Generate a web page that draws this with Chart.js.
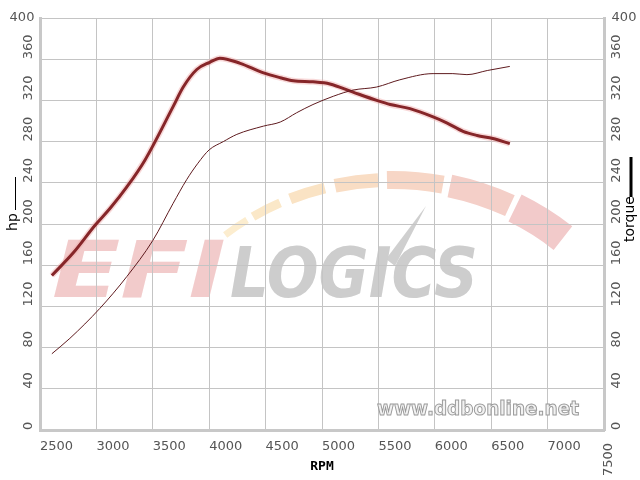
<!DOCTYPE html>
<html>
<head>
<meta charset="utf-8">
<script src="https://cdn.jsdelivr.net/npm/chart.js@4"></script>
<style>
  html, body { margin: 0; padding: 0; background: #fff; }
  canvas { display: block; }
</style>
</head>
<body>
<canvas id="dyno" width="640" height="480"></canvas>
<script>
// dyno run data
const rpmTicks = [2500, 3000, 3500, 4000, 4500, 5000, 5500, 6000, 6500, 7000, 7500];
const valueTicks = [0, 40, 80, 120, 160, 200, 240, 280, 320, 360, 400];

const torqueRpm = [2605, 2795, 2990, 3120, 3270, 3430, 3680, 3770, 3890, 4005, 4095, 4275, 4475, 4630, 4745, 4920, 5070, 5275, 5485, 5605, 5780, 5985, 6110, 6250, 6375, 6515, 6665];
const torqueVals = [150, 172, 199, 215, 236, 262, 314, 333, 350, 357, 361, 356, 347, 342, 339, 338, 336, 328, 320, 316, 312, 304, 298, 290, 286, 283, 278];

const hpRpm = [2605, 2765, 3030, 3270, 3500, 3680, 3800, 3900, 4000, 4125, 4245, 4480, 4630, 4775, 4920, 5100, 5275, 5485, 5690, 5985, 6160, 6285, 6465, 6665];
const hpVals = [74, 89, 118, 149, 184, 220, 243, 259, 272, 280, 287, 295, 299, 308, 316, 324, 330, 333, 340, 346, 346, 345, 349, 353];

const toPoints = (xs, ys) => xs.map((x, i) => ({ x: x, y: ys[i] }));

const tickFont = '13px "DejaVu Sans"';
const tickColor = '#555555';

// logo + site watermark behind the grid
const watermark = {
    id: 'watermark',
    beforeDraw(chart) {
        const ctx = chart.ctx;
        ctx.save();
        // gauge arc: [start angle, end angle, thickness, colour]
        const cx = 392, cy = 420, rx = 262, ry = 240;
        const segs = [
            [-2.261, -2.157, 7, '#fcedcf'], [-2.130, -2.012, 9, '#fbe8c8'], [-1.970, -1.830, 11, '#fae3c4'],
            [-1.790, -1.624, 14, '#f9ddc4'], [-1.590, -1.375, 18, '#f7d6c6'], [-1.348, -1.104, 23, '#f4cfc8'],
            [-1.082, -0.86, 30, '#f2caca']
        ];
        segs.forEach(s => {
            ctx.beginPath();
            ctx.lineWidth = s[2];
            ctx.strokeStyle = s[3];
            ctx.ellipse(cx, cy, rx, ry, 0, s[0], s[1]);
            ctx.stroke();
        });
        // needle
        ctx.fillStyle = '#cfcfcf';
        ctx.beginPath();
        ctx.moveTo(426, 206);
        ctx.lineTo(395, 266);
        ctx.lineTo(386, 259);
        ctx.closePath();
        ctx.fill();
        // EFI
        ctx.fillStyle = '#f2cbcb';
        ctx.textBaseline = 'alphabetic';
        ctx.textAlign = 'left';
        ctx.font = 'italic bold 78px "DejaVu Sans"';
        ctx.save();
        ctx.translate(52, 297);
        ctx.scale(1.28, 1);
        ctx.fillText('EFI', 0, 0);
        ctx.restore();
        // LOGICS
        ctx.fillStyle = '#cdcdcd';
        ctx.font = 'italic bold 70px "DejaVu Sans"';
        ctx.save();
        ctx.translate(230, 297);
        const w = ctx.measureText('LOGICS').width;
        ctx.scale(248 / w, 1);
        ctx.fillText('LOGICS', 0, 0);
        ctx.restore();
        ctx.restore();
    },
    afterDraw(chart) {
        const ctx = chart.ctx;
        const a = chart.chartArea;
        const x = chart.scales.x, y = chart.scales.y;
        ctx.save();
        // site stamp
        ctx.font = 'bold 19px "DejaVu Sans"';
        ctx.textAlign = 'center';
        ctx.textBaseline = 'middle';
        ctx.lineWidth = 1;
        ctx.fillStyle = '#f2f2f2';
        ctx.strokeStyle = '#9a9a9a';
        ctx.fillText('www.ddbonline.net', 478, 410, 202);
        ctx.strokeText('www.ddbonline.net', 478, 410, 202);

        // value tick labels, rotated and starting at the tick
        ctx.font = tickFont;
        ctx.fillStyle = tickColor;
        valueTicks.forEach(v => {
            const py = y.getPixelForValue(v);
            if (v === 400) {
                ctx.textAlign = 'center';
                ctx.fillText(String(v), 22, py);
                ctx.fillText(String(v), 624, py);
                return;
            }
            ctx.textAlign = 'left';
            [29, 617].forEach(px => {
                ctx.save();
                ctx.translate(px, py);
                ctx.rotate(-Math.PI / 2);
                ctx.fillText(String(v), 0, 0);
                ctx.restore();
            });
        });

        // rpm labels start at their grid line; the last one stands on its side
        ctx.textAlign = 'left';
        rpmTicks.forEach(v => {
            const px = x.getPixelForValue(v);
            if (v === 7500) {
                ctx.save();
                ctx.translate(px + 5, 476);
                ctx.rotate(-Math.PI / 2);
                ctx.fillText(String(v), 0, 0);
                ctx.restore();
            } else {
                ctx.fillText(String(v), px, 447);
            }
        });

        // axis titles with line samples
        ctx.textAlign = 'center';
        ctx.fillStyle = '#000';
        ctx.strokeStyle = '#000';
        ctx.font = '14px "DejaVu Sans"';
        ctx.save();
        ctx.translate(13, 222);
        ctx.rotate(-Math.PI / 2);
        ctx.fillText('hp', 0, 0);
        ctx.restore();
        ctx.lineWidth = 1;
        ctx.beginPath();
        ctx.moveTo(15.5, 177);
        ctx.lineTo(15.5, 210);
        ctx.stroke();

        ctx.save();
        ctx.translate(630, 219);
        ctx.rotate(-Math.PI / 2);
        ctx.fillText('torque', 0, 0);
        ctx.restore();
        ctx.lineWidth = 3;
        ctx.beginPath();
        ctx.moveTo(631, 157);
        ctx.lineTo(631, 197);
        ctx.stroke();

        ctx.font = 'bold 13px "DejaVu Sans Mono"';
        ctx.fillText('RPM', (a.left + a.right) / 2, 467);
        ctx.restore();
    }
};

new Chart(document.getElementById('dyno'), {
    type: 'line',
    data: {
        datasets: [
            {
                label: 'hp',
                data: toPoints(hpRpm, hpVals),
                borderColor: '#5e1a1e',
                borderWidth: 1,
                pointRadius: 0,
                cubicInterpolationMode: 'monotone',
                yAxisID: 'y'
            },
            {
                label: 'torque',
                data: toPoints(torqueRpm, torqueVals),
                borderColor: '#862629',
                borderWidth: 3,
                pointRadius: 0,
                cubicInterpolationMode: 'monotone',
                yAxisID: 'y1'
            },
            {
                // soft pink halo drawn under the torque trace
                label: 'torque glow',
                data: toPoints(torqueRpm, torqueVals),
                borderColor: 'rgba(240, 170, 170, 0.45)',
                borderWidth: 6,
                pointRadius: 0,
                cubicInterpolationMode: 'monotone',
                yAxisID: 'y1'
            }
        ]
    },
    options: {
        responsive: false,
        animation: false,
        layout: { padding: { top: 18 } },
        plugins: {
            legend: { display: false },
            tooltip: { enabled: false }
        },
        scales: {
            x: {
                type: 'linear',
                min: 2500,
                max: 7500,
                afterBuildTicks: (scale) => { scale.ticks = rpmTicks.map(v => ({ value: v })); },
                afterFit: (scale) => { scale.height = 50; },
                grid: { color: '#c4c4c4', drawTicks: false },
                border: { color: '#c8c8c8', width: 3 },
                ticks: { display: false }
            },
            y: {
                position: 'left',
                min: 0,
                max: 400,
                afterBuildTicks: (scale) => { scale.ticks = valueTicks.map(v => ({ value: v })); },
                afterFit: (scale) => { scale.width = 40; },
                grid: { color: '#c4c4c4', drawTicks: false },
                border: { color: '#c8c8c8', width: 3 },
                ticks: { display: false }
            },
            y1: {
                position: 'right',
                min: 0,
                max: 400,
                afterBuildTicks: (scale) => { scale.ticks = valueTicks.map(v => ({ value: v })); },
                afterFit: (scale) => { scale.width = 36; },
                grid: { display: false, drawTicks: false },
                border: { color: '#c8c8c8', width: 3 },
                ticks: { display: false }
            }
        }
    },
    plugins: [watermark]
});
</script>
</body>
</html>
